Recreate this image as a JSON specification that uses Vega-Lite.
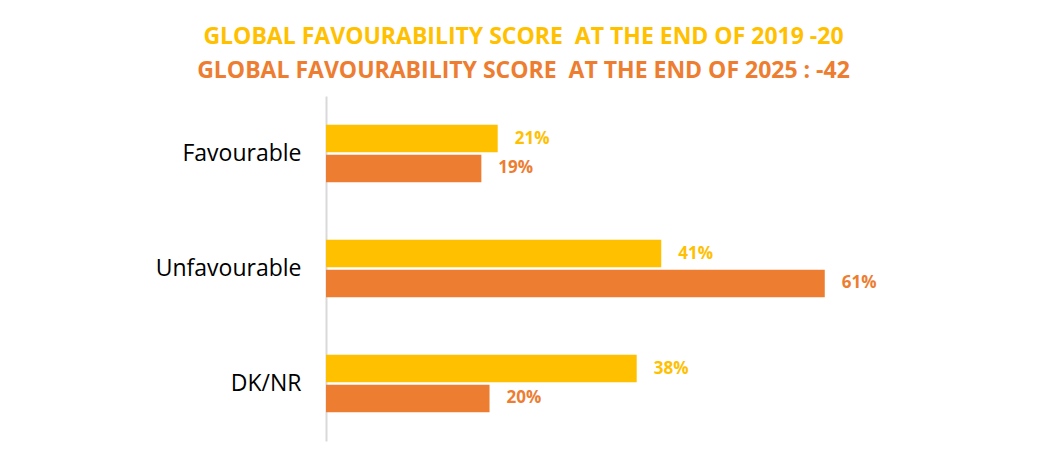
{
  "$schema": "https://vega.github.io/schema/vega-lite/v6.json",
  "width": 695,
  "height": 345,
  "autosize": {"type": "none"},
  "padding": {"left": 326, "top": 96, "right": 30, "bottom": 19},
  "background": "white",
  "title": {
    "text": "GLOBAL FAVOURABILITY SCORE\u00a0 AT THE END OF 2019 -20",
    "subtitle": "GLOBAL FAVOURABILITY SCORE\u00a0 AT THE END OF 2025 : -42",
    "anchor": "middle",
    "frame": "group",
    "dx": -150,
    "offset": 13,
    "font": "Open Sans",
    "fontSize": 23,
    "fontWeight": "bold",
    "color": "#FFC000",
    "subtitleFont": "Open Sans",
    "subtitleFontSize": 23,
    "subtitleFontWeight": "bold",
    "subtitleColor": "#ED7D31",
    "subtitlePadding": 11
  },
  "data": {
    "values": [
      {"category": "Favourable", "period": "2019-20", "value": 0.21},
      {"category": "Favourable", "period": "2025", "value": 0.19},
      {"category": "Unfavourable", "period": "2019-20", "value": 0.41},
      {"category": "Unfavourable", "period": "2025", "value": 0.61},
      {"category": "DK/NR", "period": "2019-20", "value": 0.38},
      {"category": "DK/NR", "period": "2025", "value": 0.20}
    ]
  },
  "encoding": {
    "y": {
      "field": "category",
      "type": "nominal",
      "sort": ["Favourable", "Unfavourable", "DK/NR"],
      "scale": {"paddingInner": 0.5, "paddingOuter": 0.25},
      "axis": {
        "title": null,
        "ticks": false,
        "labelPadding": 25,
        "labelFont": "Open Sans",
        "labelFontSize": 23,
        "labelColor": "#000000",
        "domainColor": "#D9D9D9",
        "domainWidth": 2
      }
    },
    "yOffset": {
      "field": "period",
      "type": "nominal",
      "sort": ["2019-20", "2025"],
      "scale": {"paddingInner": 0.08}
    },
    "x": {
      "field": "value",
      "type": "quantitative",
      "scale": {"domain": [0, 0.85]},
      "axis": null
    },
    "color": {
      "field": "period",
      "type": "nominal",
      "scale": {"domain": ["2019-20", "2025"], "range": ["#FFC000", "#ED7D31"]},
      "legend": null
    }
  },
  "layer": [
    {"mark": {"type": "bar"}},
    {
      "mark": {
        "type": "text",
        "align": "left",
        "baseline": "middle",
        "dx": 17,
        "font": "Open Sans",
        "fontSize": 17,
        "fontWeight": "bold"
      },
      "encoding": {
        "text": {"field": "value", "type": "quantitative", "format": ".0%"}
      }
    }
  ],
  "config": {"view": {"stroke": null}}
}
